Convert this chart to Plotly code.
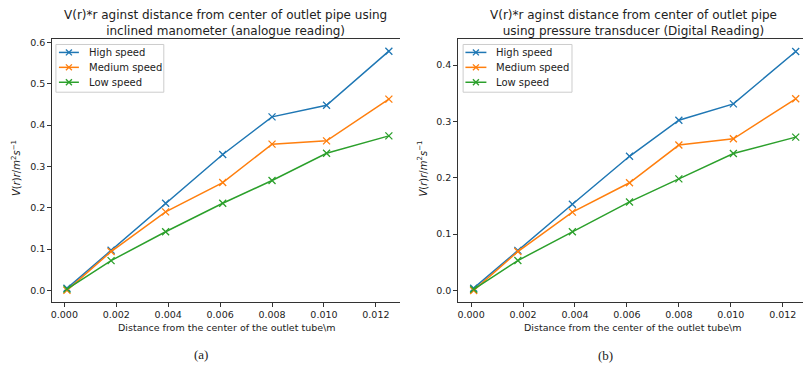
import plotly.graph_objects as go

# ---- data ----
r = [0.0001, 0.0018, 0.0039, 0.0061, 0.0080, 0.0101, 0.0125]

analogue_high = [0.005, 0.097, 0.211, 0.329, 0.420, 0.448, 0.579]
analogue_med = [0.000, 0.094, 0.190, 0.261, 0.354, 0.362, 0.463]
analogue_low = [0.003, 0.072, 0.142, 0.211, 0.266, 0.332, 0.374]

digital_high = [0.004, 0.071, 0.153, 0.238, 0.302, 0.331, 0.424]
digital_med = [0.000, 0.069, 0.139, 0.191, 0.258, 0.269, 0.340]
digital_low = [0.002, 0.053, 0.104, 0.157, 0.198, 0.243, 0.272]

series_names = ["High speed", "Medium speed", "Low speed"]
colors = ["#1f77b4", "#ff7f0e", "#2ca02c"]

xticks = [0.0, 0.002, 0.004, 0.006, 0.008, 0.010, 0.012]
xtick_text = ["0.000", "0.002", "0.004", "0.006", "0.008", "0.010", "0.012"]
yticks_a = [0.0, 0.1, 0.2, 0.3, 0.4, 0.5, 0.6]
yticks_b = [0.0, 0.1, 0.2, 0.3, 0.4]

title_a = "V(r)*r aginst distance from center of outlet pipe using<br>inclined manometer (analogue reading)"
title_b = "V(r)*r aginst distance from center of outlet pipe<br>using pressure transducer (Digital Reading)"
xlabel = "Distance from the center of the outlet tube\\m"
ylabel = "<i>V</i>(<i>r</i>)<i>r</i>/<i>m</i><sup>2</sup><i>s</i><sup>−1</sup>"

W, H = 803, 370
FONT = "DejaVu Sans"
TXT = "#222"


def px(x):
    return x / W


def py(y):
    return 1 - y / H


fig = go.Figure()

for ys, name, c in zip([analogue_high, analogue_med, analogue_low], series_names, colors):
    fig.add_trace(go.Scatter(x=r, y=ys, name=name, mode="lines+markers",
                             line=dict(color=c, width=1.5),
                             marker=dict(symbol="x-thin", size=7, line=dict(width=1.3, color=c)),
                             xaxis="x", yaxis="y", showlegend=False))
for ys, name, c in zip([digital_high, digital_med, digital_low], series_names, colors):
    fig.add_trace(go.Scatter(x=r, y=ys, name=name, mode="lines+markers",
                             line=dict(color=c, width=1.5),
                             marker=dict(symbol="x-thin", size=7, line=dict(width=1.3, color=c)),
                             xaxis="x2", yaxis="y2", showlegend=False))

ydom = [py(302), py(37)]
axis_common = dict(showgrid=False, zeroline=False, showline=True, linecolor="#333", linewidth=1,
                   ticks="outside", ticklen=3.5, tickcolor="#333", tickwidth=1,
                   tickfont=dict(family=FONT, size=9.5, color=TXT))

fig.update_layout(
    width=W, height=H,
    margin=dict(l=0, r=0, t=0, b=0),
    paper_bgcolor="white", plot_bgcolor="white",
    font=dict(family=FONT, color=TXT),
    showlegend=False,
    xaxis=dict(domain=[px(50.7), px(399)], range=[-0.00049, 0.01291], anchor="y",
               tickvals=xticks, ticktext=xtick_text, mirror=True, **axis_common),
    yaxis=dict(domain=ydom, range=[-0.029, 0.609], anchor="x",
               tickvals=yticks_a, ticktext=[f"{v:.1f}" for v in yticks_a], **axis_common),
    xaxis2=dict(domain=[px(457.3), 1.0], range=[-0.000515, 0.012781], anchor="y2",
                tickvals=xticks, ticktext=xtick_text, mirror=True, **axis_common),
    yaxis2=dict(domain=ydom, range=[-0.0212, 0.4465], anchor="x2",
                tickvals=yticks_b, ticktext=[f"{v:.1f}" for v in yticks_b], **axis_common),
)

ann = []
shapes = []


def text(t, x, y, size, family=FONT, angle=0, xanchor="center"):
    ann.append(dict(text=t, x=px(x), y=py(y), xref="paper", yref="paper",
                    showarrow=False, textangle=angle,
                    font=dict(family=family, size=size, color=TXT),
                    xanchor=xanchor, yanchor="middle", align="center"))


text(title_a, 225, 21, 12)
text(title_b, 633, 21, 12)
text(xlabel, 226, 327, 9.5)
text(xlabel, 633, 327, 9.5)
text(ylabel, 15, 167, 10, angle=-90)
text(ylabel, 422, 167, 10, angle=-90)
text("(a)", 200, 354, 13, family="Liberation Serif")
text("(b)", 605, 355, 13, family="Liberation Serif")

# custom legends (matplotlib style)
legend_specs = [
    dict(box=(55, 42.7, 163, 90.7), line=(58, 78), textx=86.5),
    dict(box=(462.7, 42.7, 571.7, 90.7), line=(465, 486), textx=493.3),
]
rows_y = [50.7, 65.7, 80.7]
for spec in legend_specs:
    x0, y0, x1, y1 = spec["box"]
    shapes.append(dict(type="rect", xref="paper", yref="paper",
                       x0=px(x0), x1=px(x1), y0=py(y1), y1=py(y0),
                       line=dict(color="#cccccc", width=1),
                       fillcolor="rgba(255,255,255,0.8)", layer="above"))
    lx0, lx1 = spec["line"]
    mx = (lx0 + lx1) / 2
    for name, c, yy in zip(series_names, colors, rows_y):
        shapes.append(dict(type="line", xref="paper", yref="paper",
                           x0=px(lx0), x1=px(lx1), y0=py(yy), y1=py(yy),
                           line=dict(color=c, width=1.5), layer="above"))
        d = 3
        shapes.append(dict(type="line", xref="paper", yref="paper",
                           x0=px(mx - d), x1=px(mx + d), y0=py(yy - d), y1=py(yy + d),
                           line=dict(color=c, width=1.3), layer="above"))
        shapes.append(dict(type="line", xref="paper", yref="paper",
                           x0=px(mx - d), x1=px(mx + d), y0=py(yy + d), y1=py(yy - d),
                           line=dict(color=c, width=1.3), layer="above"))
        text(name, spec["textx"], yy, 10, xanchor="left")

fig.update_layout(annotations=ann, shapes=shapes)

fig.write_html("out.html")
